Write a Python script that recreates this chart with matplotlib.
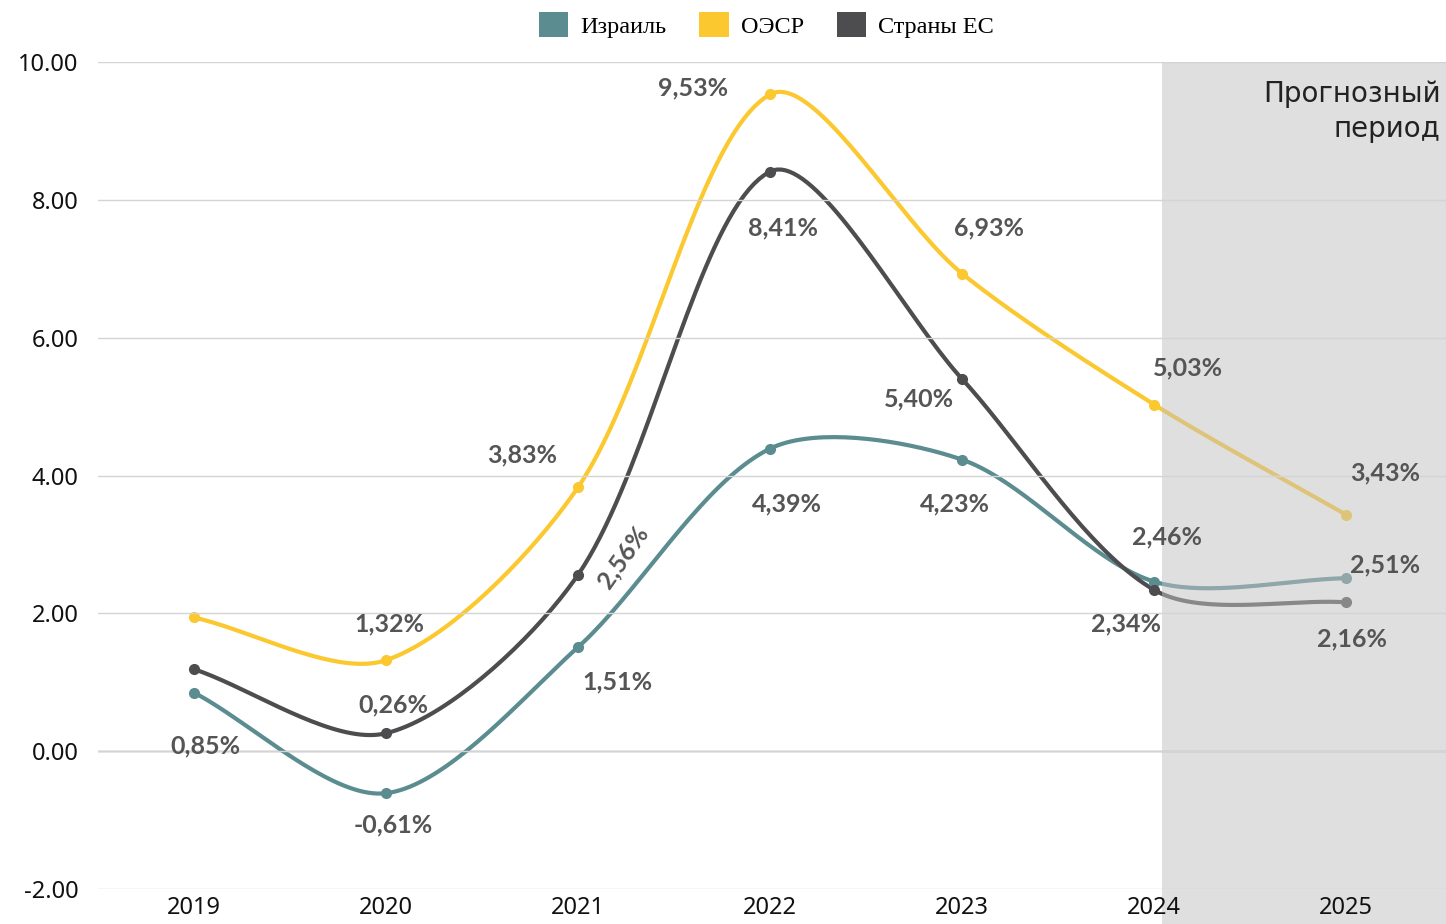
import numpy as np
import matplotlib.pyplot as plt
from matplotlib.patches import Rectangle, Patch
from matplotlib.transforms import blended_transform_factory

# data
years = ['2019', '2020', '2021', '2022', '2023', '2024', '2025']
israel = [0.85, -0.61, 1.51, 4.39, 4.23, 2.46, 2.51]
oecd = [1.94, 1.32, 3.83, 9.53, 6.93, 5.03, 3.43]
eu = [1.19, 0.26, 2.56, 8.41, 5.40, 2.34, 2.16]
series_names = ['Израиль', 'ОЭСР', 'Страны ЕС']
forecast_from = 5.04

colors = ['#5b8c90', '#fbc82f', '#4d4d4f']

# label offsets in pixels (None = no label), rotation
offs_israel = [(11, -53), (7, -32), (39, -35), (17, -55), (-7, -44), (13, 45), (39, 13)]
offs_oecd = [None, (3, 36), (-56, 32), (-77, 6), (27, 46), (34, 37), (39, 42)]
offs_eu = [None, (7, 28), (45, 18), (13, -56), (-43, -20), (-28, -34), (6, -37)]
rot_eu = [0, 0, 55, 0, 0, 0, 0]


def smooth(ax, xs, ys, tension=0.3, n=40):
    # chart.js-like spline, computed in pixel space
    P = ax.transData.transform(np.column_stack([xs, ys]))
    m = len(P)
    cp_prev = P.copy()
    cp_next = P.copy()
    for i in range(m):
        p0 = P[i - 1] if i > 0 else P[i]
        p1 = P[i]
        p2 = P[i + 1] if i < m - 1 else P[i]
        d01 = np.hypot(*(p1 - p0))
        d12 = np.hypot(*(p2 - p1))
        tot = d01 + d12
        if tot == 0:
            continue
        fa = tension * d01 / tot
        fb = tension * d12 / tot
        cp_prev[i] = p1 - fa * (p2 - p0)
        cp_next[i] = p1 + fb * (p2 - p0)
    out = []
    t = np.linspace(0, 1, n)[:, None]
    for i in range(m - 1):
        a, b, c, d = P[i], cp_next[i], cp_prev[i + 1], P[i + 1]
        seg = (1 - t) ** 3 * a + 3 * (1 - t) ** 2 * t * b + 3 * (1 - t) * t ** 2 * c + t ** 3 * d
        out.append(seg if i == 0 else seg[1:])
    out = ax.transData.inverted().transform(np.vstack(out))
    return out[:, 0], out[:, 1]


fig = plt.figure(figsize=(14.46, 9.24), dpi=100)
ax = fig.add_axes([98 / 1446, 1 - 889 / 924, 1 - 98 / 1446, 827 / 924])
ax.set_xlim(-0.5, 6.52)
ax.set_ylim(-2, 10)

x = np.arange(len(years))
for vals, col in zip([israel, oecd, eu], colors):
    sx, sy = smooth(ax, x, vals)
    ax.plot(sx, sy, color=col, lw=3, solid_capstyle='round', zorder=1.5)
    ax.plot(x, vals, 'o', color=col, ms=7, zorder=1.6)

ax.axhline(0, color='#8c8c8c', lw=1, zorder=1.2)

# forecast shading
trans = blended_transform_factory(ax.transData, ax.transAxes)
ax.add_patch(Rectangle((forecast_from, -0.05), 10, 1.05, transform=trans,
                       facecolor='#c2c2c2', alpha=0.51, edgecolor='none',
                       clip_on=False, zorder=2))
ax.text(0.996, 0.978, 'Прогнозный\nпериод', transform=ax.transAxes, ha='right', va='top',
        fontsize=20, family='DejaVu Sans', color='#222222', linespacing=1.3, zorder=3)

# data labels
for vals, offs, rots in [(israel, offs_israel, [0] * 7), (oecd, offs_oecd, [0] * 7), (eu, offs_eu, rot_eu)]:
    for i, v in enumerate(vals):
        if offs[i] is None:
            continue
        txt = f'{v:.2f}'.replace('.', ',') + '%'
        ax.annotate(txt, (x[i], v), xytext=offs[i], textcoords='offset pixels',
                    ha='center', va='center', fontsize=18, family='Lato', fontweight='bold',
                    color='#555555', rotation=rots[i], zorder=3)

ax.set_yticks(np.arange(-2, 10.1, 2))
ax.set_yticklabels([f'{t:.2f}' for t in np.arange(-2, 10.1, 2)])
ax.set_xticks(x)
ax.set_xticklabels(years)
ax.set_axisbelow(False)
ax.grid(axis='y', color='#d4d4d4', lw=1)
ax.tick_params(length=0, labelsize=17, colors='#111111')
ax.tick_params(axis='x', pad=5)
ax.tick_params(axis='y', pad=14)
for lab in ax.get_xticklabels() + ax.get_yticklabels():
    lab.set_family('Noto Sans')
    lab.set_fontweight('medium')
for s in ax.spines.values():
    s.set_visible(False)

handles = [Patch(facecolor=c, edgecolor='none') for c in colors]
fig.legend(handles, series_names, loc='center', bbox_to_anchor=(0.53, 0.973), ncol=3,
           frameon=False, prop={'family': 'Liberation Serif', 'size': 17.5},
           handlelength=1.2, handleheight=1.2, columnspacing=1.35, handletextpad=0.5)

fig.savefig('out.png', dpi=100)
